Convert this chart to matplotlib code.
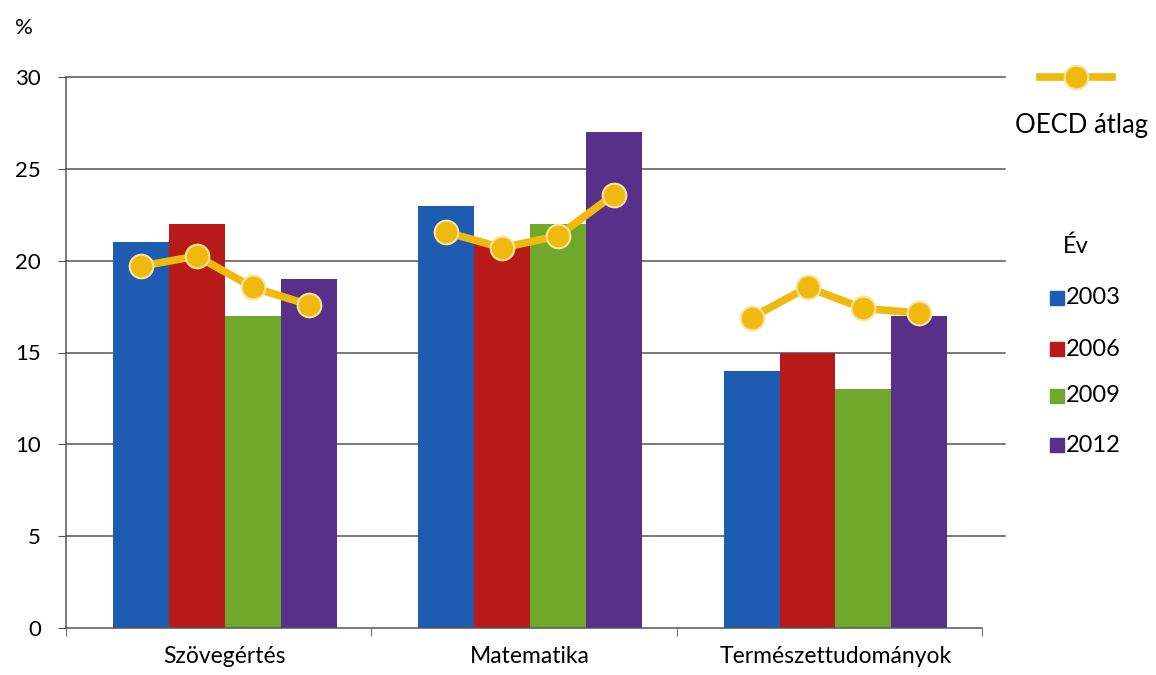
import numpy as np
import matplotlib.pyplot as plt
from matplotlib.lines import Line2D

plt.rcParams['font.family'] = ['Lato', 'DejaVu Sans']

# Data
categories = ['Szövegértés', 'Matematika', 'Természettudományok']
years = ['2003', '2006', '2009', '2012']
values = {
    '2003': [21, 23, 14],
    '2006': [22, 21, 15],
    '2009': [17, 22, 13],
    '2012': [19, 27, 17],
}
oecd = [
    [19.7, 20.25, 18.55, 17.6],
    [21.55, 20.7, 21.35, 23.6],
    [16.9, 18.55, 17.4, 17.15],
]
colors = ['#1d5cb0', '#b81a1a', '#6fa82a', '#58308a']
gold = '#f0b90e'

fig = plt.figure(figsize=(11.56, 6.75), dpi=100)
ax = fig.add_axes([66 / 1156, 1 - 628 / 675, 916 / 1156, 551 / 675])

x = np.arange(len(categories)) + 0.52
w = 0.183
offsets = (np.arange(len(years)) - 1.5) * w

# gridlines (they run a bit past the plot area in the original)
for yv in range(5, 31, 5):
    ax.axhline(yv, xmin=0, xmax=1.025, color='#555555', lw=1.1, zorder=0, clip_on=False)

for i, yr in enumerate(years):
    ax.bar(x + offsets[i], values[yr], width=w, color=colors[i], zorder=2)

# OECD average, one short line per category
for j in range(len(categories)):
    ax.plot(x[j] + offsets, oecd[j], color=gold, lw=5.5, zorder=3,
            marker='o', ms=17, mfc=gold, mec='#f8e3a0', mew=1.5)

ax.set_xlim(0, 3)
ax.set_ylim(0, 30)
ax.set_yticks(range(0, 31, 5))
ax.set_xticks(x)
ax.set_xticklabels(categories)
ax.set_xticks([0, 1, 2, 3], minor=True)
ax.tick_params(axis='x', which='major', length=0, pad=13, labelsize=16.5)
ax.tick_params(axis='x', which='minor', length=6, direction='out', color='#555555')
ax.tick_params(axis='y', length=6, direction='out', color='#555555', pad=12, labelsize=16)
for s in ['top', 'right']:
    ax.spines[s].set_visible(False)
for s in ['left', 'bottom']:
    ax.spines[s].set_color('#555555')
    ax.spines[s].set_linewidth(1.1)

fig.text(15 / 1156, 1 - 28 / 675, '%', fontsize=16, va='center', ha='left')

# legend drawn by hand on the right
fig.add_artist(Line2D([1040 / 1156, 1112 / 1156], [1 - 77 / 675] * 2,
                      transform=fig.transFigure, color=gold, lw=5.5))
fig.add_artist(Line2D([1076 / 1156], [1 - 77 / 675], transform=fig.transFigure,
                      marker='o', ms=17, mfc=gold, mec='#f8e3a0', mew=1.5, lw=0))
fig.text(1082 / 1156, 1 - 125 / 675, 'OECD átlag', fontsize=18.5, ha='center', va='center')
fig.text(1076 / 1156, 1 - 246 / 675, 'Év', fontsize=17, ha='center', va='center')
for i, yr in enumerate(years):
    yy = 1 - [298, 349, 396, 445][i] / 675
    fig.patches.append(plt.Rectangle((1050 / 1156, yy - 7 / 675), 14 / 1156, 14 / 675,
                                     transform=fig.transFigure, color=colors[i]))
    fig.text(1066 / 1156, yy, yr, fontsize=17, ha='left', va='center')

fig.savefig('out.png', dpi=100)
